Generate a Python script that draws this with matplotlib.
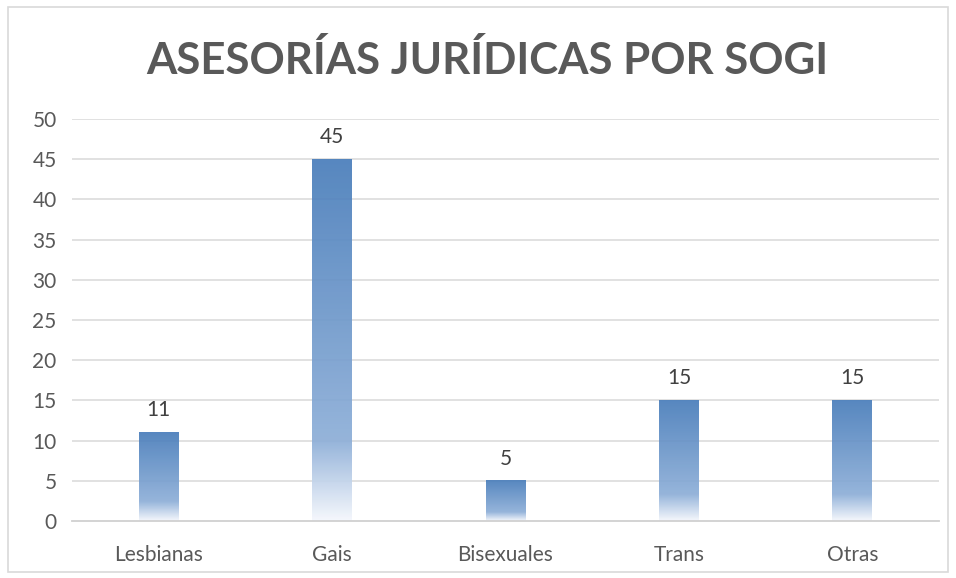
import matplotlib
matplotlib.use("Agg")
import matplotlib.pyplot as plt
import numpy as np
from matplotlib.colors import to_rgb
from matplotlib.patches import Rectangle

categories = ["Lesbianas", "Gais", "Bisexuales", "Trans", "Otras"]
values = [11, 45, 5, 15, 15]
yticks = [0, 5, 10, 15, 20, 25, 30, 35, 40, 45, 50]
title = "ASESORÍAS JURÍDICAS POR SOGI"

plt.rcParams['font.family'] = ['Lato', 'DejaVu Sans']
W, H = 956, 578
fig = plt.figure(figsize=(W/100, H/100), dpi=100)
fig.patch.set_facecolor('white')
# outer border
fig.add_artist(Rectangle((8/W, 1 - 572/H), (948-8)/W, (572-7)/H, transform=fig.transFigure,
                         fill=False, edgecolor='#d9d9d9', linewidth=1.2))

left, right = 72/W, 939/W
bottom, top = 1 - 521/H, 1 - 119/H
ax = fig.add_axes([left, bottom, right-left, top-bottom])
ax.set_xlim(-0.5, len(categories)-0.5)
ax.set_ylim(0, 50)
ax.set_yticks(yticks)
ax.set_xticks(range(len(categories)))
ax.set_xticklabels(categories)
for s in ['top', 'right', 'left']:
    ax.spines[s].set_visible(False)
ax.spines['bottom'].set_color('#d0d0d0')
ax.spines['bottom'].set_linewidth(1.3)
ax.tick_params(axis='both', length=0, labelsize=15, colors='#595959')
ax.tick_params(axis='y', pad=11)
ax.tick_params(axis='x', pad=17)
for y in yticks[1:]:
    ax.axhline(y, color='#d9d9d9', linewidth=1.1, zorder=0)

# gradient colors
top_c = np.array(to_rgb('#4a7ebb'))
mid_c = np.array(to_rgb('#8eafd8'))
bot_c = np.array([0.96, 0.97, 0.99])
n = 256
t = np.linspace(0, 1, n)  # 0 bottom, 1 top
grad = np.zeros((n, 1, 4))
for i, tt in enumerate(t):
    if tt < 0.22:
        f = tt / 0.22
        c = bot_c + (mid_c - bot_c) * f
    else:
        f = (tt - 0.22) / 0.78
        c = mid_c + (top_c - mid_c) * f
    grad[i, 0, :3] = c
    grad[i, 0, 3] = 0.93
bw = 0.23
for i, v in enumerate(values):
    ax.imshow(grad, extent=(i - bw/2, i + bw/2, 0, v), origin='lower', aspect='auto',
              zorder=2, interpolation='bicubic')
    ax.text(i, v + 1.5, str(v), ha='center', va='bottom', fontsize=15, color='#404040')
ax.set_xlim(-0.5, len(categories)-0.5)
ax.set_ylim(0, 50)

fig.text(487/W, 1 - 60/H, title, ha='center', va='center', fontsize=31.5, fontweight='bold', color='#595959')

fig.savefig('out.png', dpi=100)
